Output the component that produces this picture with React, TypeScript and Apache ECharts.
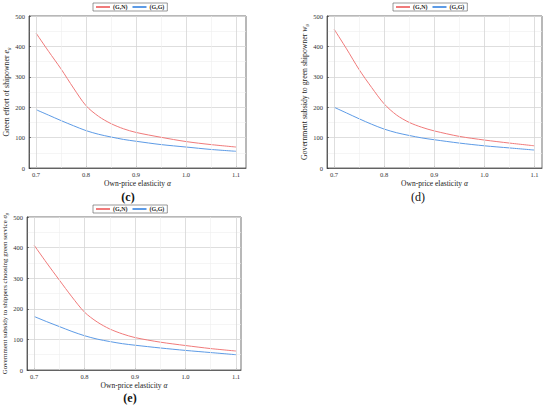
import React, { useEffect, useRef } from "react";
import * as echarts from "echarts";

const alphas = [0.7, 0.725, 0.75, 0.775, 0.8, 0.825, 0.85, 0.875, 0.9, 0.95, 1.0, 1.05, 1.1];
const xTicks = [0.7, 0.8, 0.9, 1.0, 1.1];
const xMinorTicks = [0.75, 0.85, 0.95, 1.05];

const cGN = [444, 384, 326, 263, 205, 170, 146, 129, 117, 101, 87, 77, 69];
const cGG = [192, 174, 156, 139, 123, 111, 102, 94, 88, 77, 69, 61, 55];
const dGN = [457, 392, 324, 265, 211, 174, 150, 134, 122, 104, 92, 82, 73];
const dGG = [200, 181, 162, 144, 128, 116, 107, 99, 93, 82, 73, 66, 59];
const eGN = [408, 350, 294, 239, 189, 157, 134, 118, 106, 91, 80, 70, 62];
const eGG = [175, 158, 142, 126, 112, 101, 93, 86, 81, 72, 64, 57, 50];

const seriesNames = ["(G,N)", "(G,G)"];
const panelLabels = ["(c)", "(d)", "(e)"];

const RED = "#f07a7a";
const BLUE = "#5d9be6";
const FONT = "Liberation Serif";

const zip = (xs: number[], ys: number[]) => xs.map((x, i) => [x, ys[i]]);

export default function App() {
  const ref = useRef<HTMLDivElement>(null);
  useEffect(() => {
    if (!ref.current) return;
    const chart = echarts.init(ref.current, undefined, { renderer: "svg" });
    const grids = [
      { left: 29, right: 304, top: 16, height: 152 },
      { left: 327, right: 8, top: 16, height: 152 },
      { left: 27, right: 309, top: 217, height: 153 },
    ];
    const yNames = [
      "{n|Green effort of shipowner }{i|e}{s|g}",
      "{n|Government subsidy to green shipowner }{i|w}{s|g}",
      "{m|Government subsidy to shippers choosing green service }{mi|σ}{ms|g}",
    ];
    const yGaps = [16, 12, 16];
    const data = [
      [cGN, cGG],
      [dGN, dGG],
      [eGN, eGG],
    ];
    const legendPos = [
      { left: 93, top: 3 },
      { left: 393, top: 3 },
      { left: 93, top: 205 },
    ];
    const labelPos = [
      { x: 128, y: 197 },
      { x: 418, y: 197 },
      { x: 130, y: 398 },
    ];

    const markLines = () => ({
      silent: true,
      symbol: "none",
      label: { show: false },
      animation: false,
      data: [
        ...xTicks.map((v) => ({ xAxis: v, lineStyle: { color: "#d6d6d6", width: 0.8, type: "solid" } })),
        ...xMinorTicks.map((v) => ({ xAxis: v, lineStyle: { color: "#efefef", width: 0.6, type: "solid" } })),
      ],
    });

    const series: any[] = [];
    data.forEach((pair, gi) => {
      pair.forEach((vals, si) => {
        series.push({
          name: seriesNames[si],
          type: "line",
          xAxisIndex: gi,
          yAxisIndex: gi,
          data: zip(alphas, vals),
          smooth: 0.3,
          showSymbol: false,
          symbol: "none",
          lineStyle: { color: si === 0 ? RED : BLUE, width: 1 },
          itemStyle: { color: si === 0 ? RED : BLUE },
          markLine: si === 0 ? markLines() : undefined,
          z: 3,
        });
      });
    });

    const option: any = {
      animation: false,
      backgroundColor: "#fff",
      textStyle: { fontFamily: FONT },
      grid: grids.map((g) => ({ ...g, show: true, borderColor: "#333", borderWidth: 0.7, backgroundColor: "transparent" })),
      legend: legendPos.map((p) => ({
        ...p,
        data: seriesNames,
        orient: "horizontal",
        itemWidth: 14,
        itemHeight: 2,
        itemGap: 5,
        padding: [1, 3, 1, 3],
        borderColor: "#555",
        borderWidth: 0.6,
        icon: "rect",
        textStyle: { fontFamily: FONT, fontSize: 6, fontWeight: "bold", color: "#222", padding: [0, 0, 0, -2] },
        selectedMode: false,
      })),
      xAxis: grids.map((_, gi) => ({
        type: "value",
        gridIndex: gi,
        min: 0.686,
        max: gi === 0 ? 1.12 : gi === 1 ? 1.115 : 1.11,
        name: "{n|Own-price elasticity }{i|α}",
        nameLocation: "middle",
        nameGap: 11,
        nameTextStyle: {
          rich: {
            n: { fontFamily: FONT, fontSize: 7.5, color: "#222" },
            i: { fontFamily: FONT, fontSize: 7.5, fontStyle: "italic", color: "#222" },
          },
        },
        axisLine: { show: true, lineStyle: { color: "#333", width: 0.7 } },
        axisTick: { show: true, inside: true, length: 2, customValues: xTicks, lineStyle: { color: "#333", width: 0.6 } },
        axisLabel: { customValues: xTicks, fontFamily: FONT, fontSize: 6.5, color: "#333", margin: 3, formatter: (v: number) => v.toFixed(1) },
        splitLine: { show: false },
      })),
      yAxis: grids.map((_, gi) => ({
        type: "value",
        gridIndex: gi,
        min: 0,
        max: 500,
        interval: 100,
        name: yNames[gi],
        nameLocation: "middle",
        nameGap: yGaps[gi],
        nameRotate: 90,
        nameTextStyle: {
          rich: {
            n: { fontFamily: FONT, fontSize: 7.8, color: "#222" },
            i: { fontFamily: FONT, fontSize: 7.8, fontStyle: "italic", color: "#222" },
            s: { fontFamily: FONT, fontSize: 5, fontStyle: "italic", color: "#222", verticalAlign: "bottom", padding: [4, 0, 0, 0] },
            m: { fontFamily: FONT, fontSize: 6.9, color: "#222" },
            mi: { fontFamily: FONT, fontSize: 6.9, fontStyle: "italic", color: "#222" },
            ms: { fontFamily: FONT, fontSize: 4.6, fontStyle: "italic", color: "#222", verticalAlign: "bottom", padding: [4, 0, 0, 0] },
          },
        },
        axisLine: { show: true, lineStyle: { color: "#333", width: 0.7 } },
        axisTick: { show: true, inside: true, length: 2, lineStyle: { color: "#333", width: 0.6 } },
        axisLabel: { fontFamily: FONT, fontSize: 6.5, color: "#333", margin: 4 },
        splitLine: { show: true, lineStyle: { color: "#d6d6d6", width: 0.8 } },
        minorTick: { show: false, splitNumber: 2 },
        minorSplitLine: { show: true, lineStyle: { color: "#efefef", width: 0.6 } },
      })),
      graphic: panelLabels.map((t, i) => ({
        type: "text",
        x: labelPos[i].x,
        y: labelPos[i].y,
        style: {
          text: t,
          fontFamily: FONT,
          fontSize: 12,
          fontWeight: i === 1 ? "normal" : "bold",
          fill: "#111",
          align: "center",
          verticalAlign: "middle",
        },
      })),
      series,
    };
    chart.setOption(option);
    return () => chart.dispose();
  }, []);
  return <div ref={ref} style={{ position: "fixed", left: 0, top: 0, width: 550, height: 408 }} />;
}
